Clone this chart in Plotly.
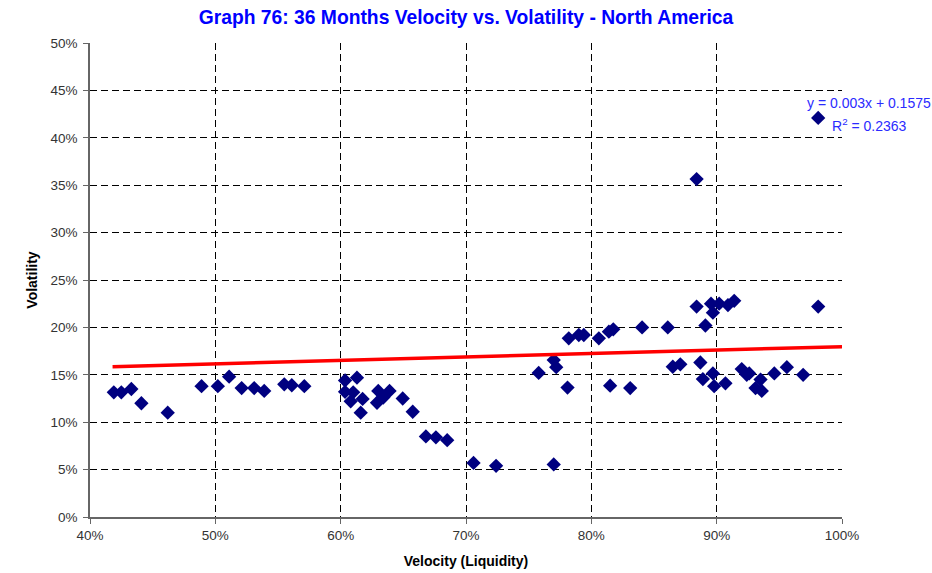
import plotly.graph_objects as go

velocity = [41.9, 42.5, 43.3, 44.1, 46.2, 48.9, 50.2, 51.1, 52.1, 53.1, 53.9, 55.5, 56.1, 57.1,
            60.35, 61.3, 60.35, 61.0, 60.8, 61.75, 61.6, 63.0, 63.9, 62.9, 63.4, 64.95, 65.75,
            66.8, 67.6, 68.5, 70.6, 72.4,
            75.8, 77.0, 77.2, 78.1, 77.0, 78.2, 79.0, 79.4, 80.6, 81.4, 81.75, 81.5, 83.1,
            84.05, 86.1, 86.5, 87.1, 88.4, 89.1, 89.55, 89.7, 90.2, 90.9, 91.4, 98.1, 88.4, 98.1,
            88.7, 88.9, 89.7, 89.8, 90.7, 92.0, 92.4, 92.6, 93.5, 93.1, 93.6, 94.6, 95.6, 96.9]
volatility = [13.15, 13.15, 13.5, 12.0, 11.0, 13.8, 13.8, 14.8, 13.6, 13.6, 13.3, 14.0, 13.9, 13.8,
              14.4, 14.7, 13.2, 13.15, 12.2, 12.45, 11.0, 13.3, 13.3, 12.05, 12.6, 12.5, 11.1,
              8.5, 8.4, 8.1, 5.7, 5.4,
              15.2, 16.55, 15.8, 13.65, 5.55, 18.85, 19.2, 19.2, 18.85, 19.55, 19.8, 13.85, 13.6,
              20.0, 20.0, 15.85, 16.1, 22.2, 20.2, 22.5, 21.55, 22.5, 22.35, 22.8, 22.2, 35.65, 42.1,
              16.3, 14.55, 15.15, 13.8, 14.1, 15.6, 15.0, 15.15, 14.5, 13.6, 13.3, 15.15, 15.8, 15.0]

trend_x = [41.8, 100.0]
trend_y = [15.86, 17.97]

x_ticks = [40, 50, 60, 70, 80, 90, 100]
y_ticks = [0, 5, 10, 15, 20, 25, 30, 35, 40, 45, 50]

FONT = "Liberation Sans, Arial, sans-serif"

fig = go.Figure()
fig.add_trace(go.Scatter(
    x=velocity, y=volatility, mode="markers",
    marker=dict(symbol="diamond", size=11, color="#000080", line=dict(width=0)),
    showlegend=False, cliponaxis=False,
))
fig.add_trace(go.Scatter(
    x=trend_x, y=trend_y, mode="lines",
    line=dict(color="#FF0000", width=3.5),
    showlegend=False,
))

fig.update_layout(
    width=932, height=573,
    margin=dict(l=90, r=90, t=43, b=56),
    paper_bgcolor="white", plot_bgcolor="white",
    font=dict(family=FONT, size=13, color="#333333"),
    title=dict(text="<b>Graph 76: 36 Months Velocity vs. Volatility - North America</b>",
               x=0.5, xanchor="center", y=0.9703, yanchor="middle",
               font=dict(size=19.3, color="#0000FF", family=FONT)),
)
fig.update_xaxes(
    range=[40, 100], tickvals=x_ticks, ticktext=[f"{v}%" for v in x_ticks],
    showgrid=True, gridcolor="black", griddash="7px,4px", gridwidth=1,
    showline=True, linecolor="#666666", linewidth=1.5,
    ticks="outside", ticklen=5, tickcolor="#666666",
    zeroline=False, automargin=False,
    title=dict(text="<b>Velocity (Liquidity)</b>", font=dict(size=14, color="black", family=FONT), standoff=14),
    tickfont=dict(size=13.5, color="#333333"),
)
fig.update_yaxes(
    range=[0, 50], tickvals=y_ticks, ticktext=[f"{v}%" for v in y_ticks],
    showgrid=True, gridcolor="black", griddash="7px,4px", gridwidth=1,
    showline=True, linecolor="#666666", linewidth=1.5,
    ticks="outside", ticklen=5, tickcolor="#666666",
    zeroline=False, ticklabelstandoff=3, automargin=False,
    title=dict(text="<b>Volatility</b>", font=dict(size=14, color="black", family=FONT), standoff=10),
    tickfont=dict(size=13.5, color="#333333"),
)

fig.add_annotation(x=0.951, y=0.873, xref="paper", yref="paper", text="y = 0.003x + 0.1575",
                   showarrow=False, font=dict(size=14, color="#2B2BFF", family=FONT),
                   xanchor="left", yanchor="middle")
fig.add_annotation(x=0.984, y=0.827, xref="paper", yref="paper", text="R<sup>2</sup> = 0.2363",
                   showarrow=False, font=dict(size=14, color="#2B2BFF", family=FONT),
                   xanchor="left", yanchor="middle")

fig.write_html("out.html", config={"displayModeBar": False},
               post_script="document.body.style.margin='0px';")
